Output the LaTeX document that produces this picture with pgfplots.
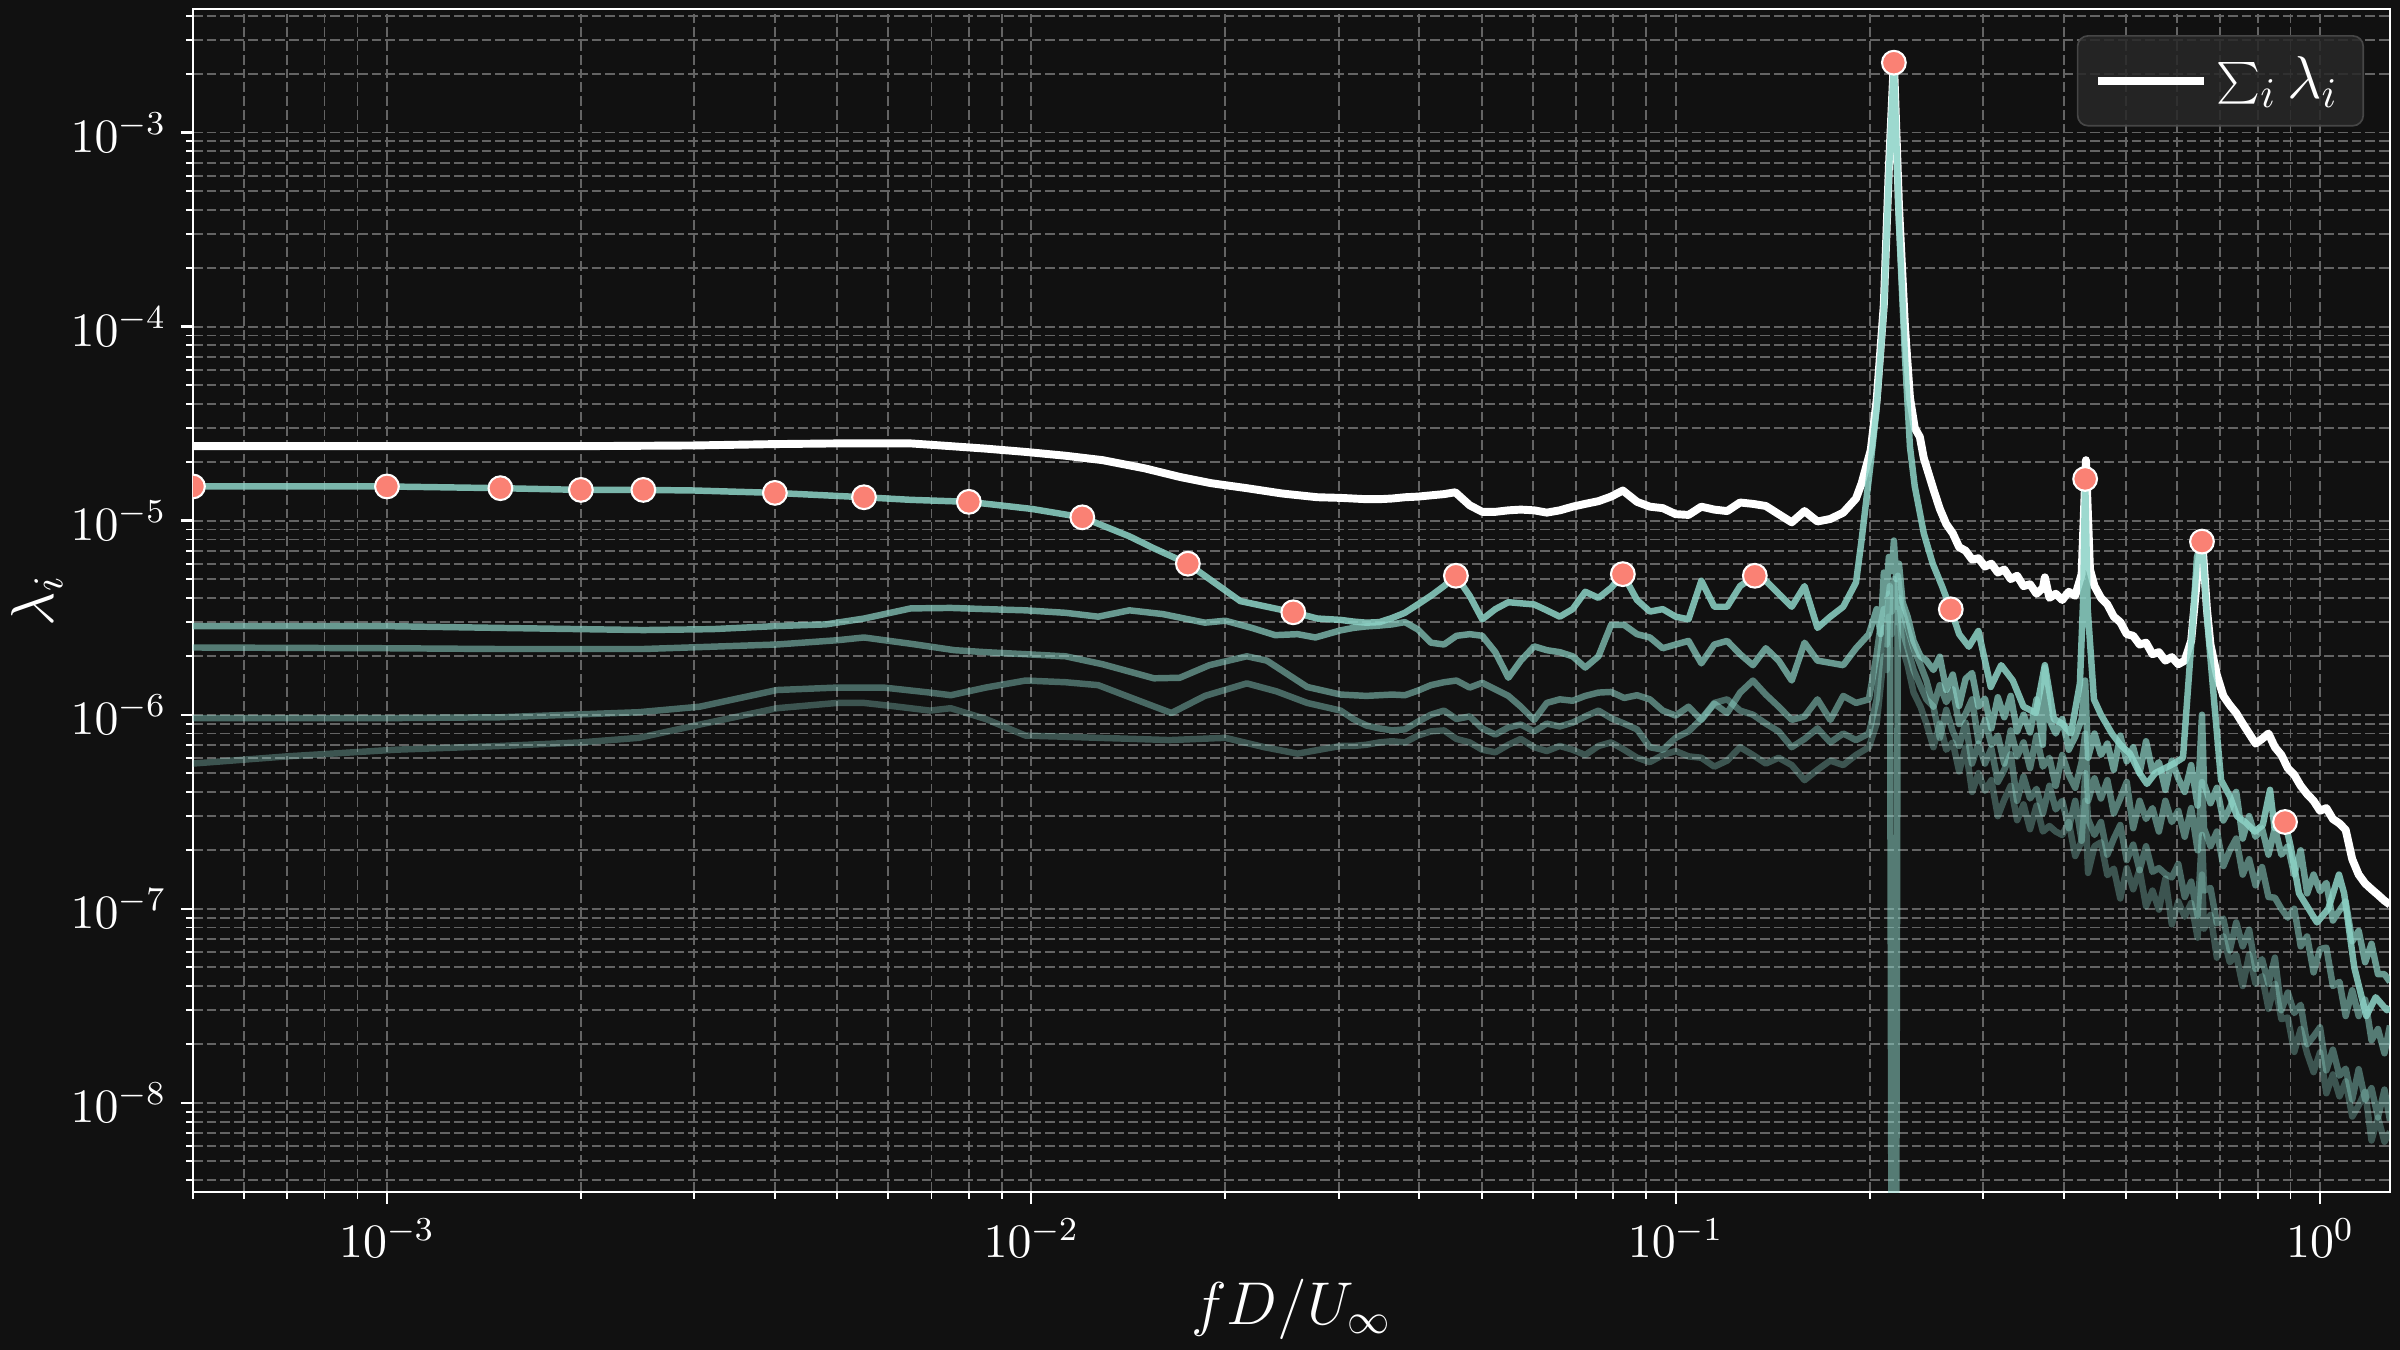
\RequirePackage{fix-cm}
\documentclass[border=0pt]{standalone}
\usepackage{pgfplots}
\pgfplotsset{compat=1.18}
\definecolor{bgc}{HTML}{111111}
\definecolor{tealc}{HTML}{8DD3C7}
\definecolor{salmon}{HTML}{FA8174}
\definecolor{gridc}{RGB}{100,100,100}
\definecolor{legfill}{RGB}{40,40,40}
\definecolor{legdraw}{RGB}{70,70,70}
\begin{document}
\begin{tikzpicture}
\fill[bgc] (-46.32pt,-37.92pt) rectangle (529.68pt,286.08pt);
\begin{axis}[
 at={(0pt,0pt)}, anchor=south west,
 scale only axis, width=527.28pt, height=283.92pt,
 xmode=log, ymode=log,
 xmin=5e-4, xmax=1.284, ymin=3.47e-9, ymax=4.33e-3,
 axis background/.style={fill=bgc},
 axis line style={white, line width=0.5pt},
 tick align=outside, tick pos=left,
 major tick length=2.9pt, minor tick length=1.7pt,
 major tick style={white, line width=0.55pt},
 minor tick style={white, line width=0.45pt},
 grid=both,
 major grid style={gridc, line width=0.45pt, dash pattern=on 2.3pt off 1pt},
 minor grid style={gridc, line width=0.45pt, dash pattern=on 2.3pt off 1pt},
 tick label style={text=white, font=\fontsize{11.5}{13}\selectfont},
 xlabel={$fD/U_\infty$}, ylabel={$\lambda_i$},
 every axis x label/.style={at={(axis description cs:0.5,-0.099)}, anchor=center, text=white, font=\fontsize{14.5}{17}\selectfont},
 every axis y label/.style={at={(axis description cs:-0.071,0.5)}, anchor=center, rotate=90, text=white, font=\fontsize{14.5}{17}\selectfont},
 legend style={at={(0.9882,0.978)}, anchor=north east, fill=legfill, fill opacity=0.85, text opacity=1, draw=legdraw, rounded corners=2.5pt, text=white, font=\fontsize{14.5}{17}\selectfont, inner xsep=4pt, inner ysep=3pt},
 legend image code/.code={\draw[#1] (0pt,0pt) -- (25.4pt,0pt);},
 clip marker paths=true,
]
% sum (drawn first, modes on top)
\addplot[white, line width=1.9pt, line join=round] table[row sep=\\]{
5.0e-4 2.42e-5\\ 1.0e-3 2.42e-5\\ 2.0e-3 2.42e-5\\ 3.0e-3 2.44e-5\\ 4.0e-3 2.48e-5\\ 5.0e-3 2.50e-5\\ 6.5e-3 2.50e-5\\ 7.5e-3 2.42e-5\\ 8.5e-3 2.35e-5\\ 9.8e-3 2.26e-5\\ 1.13e-2 2.16e-5\\ 1.29e-2 2.05e-5\\ 1.50e-2 1.86e-5\\ 1.70e-2 1.68e-5\\ 1.90e-2 1.56e-5\\ 2.16e-2 1.47e-5\\ 2.45e-2 1.38e-5\\ 2.78e-2 1.32e-5\\
0.0302 1.31e-5\\ 0.0316 1.30e-5\\ 0.0331 1.29e-5\\ 0.0347 1.29e-5\\ 0.0363 1.30e-5\\ 0.0380 1.32e-5\\ 0.0398 1.33e-5\\ 0.0417 1.35e-5\\ 0.0437 1.37e-5\\ 0.0455 1.40e-5\\ 0.0479 1.20e-5\\ 0.0501 1.11e-5\\ 0.0525 1.11e-5\\ 0.0550 1.13e-5\\ 0.0575 1.14e-5\\ 0.0603 1.13e-5\\ 0.0631 1.10e-5\\ 0.0661 1.13e-5\\ 0.0692 1.18e-5\\ 0.0724 1.22e-5\\ 0.0759 1.26e-5\\ 0.0794 1.33e-5\\ 0.0828 1.43e-5\\ 0.0871 1.25e-5\\ 0.0912 1.18e-5\\ 0.0955 1.16e-5\\ 0.1000 1.08e-5\\ 0.1047 1.07e-5\\ 0.1096 1.18e-5\\ 0.1148 1.14e-5\\ 0.1202 1.12e-5\\ 0.1259 1.24e-5\\ 0.1318 1.22e-5\\ 0.1380 1.19e-5\\ 0.1445 1.08e-5\\ 0.1514 9.8e-6\\ 0.1585 1.12e-5\\ 0.1660 9.9e-6\\ 0.1738 1.02e-5\\ 0.1820 1.10e-5\\ 0.1905 1.30e-5\\ 0.1944 1.56e-5\\ 0.2008 2.31e-5\\ 0.2051 4.2e-5\\ 0.2104 1.3e-4\\ 0.2142 6.5e-4\\ 0.2181 2.35e-3\\ 0.2221 4.2e-4\\ 0.2269 1.0e-4\\ 0.2310 4.3e-5\\ 0.2350 3.0e-5\\ 0.2393 2.7e-5\\ 0.2427 2.1e-5\\
0.2512 1.45e-5\\ 0.2570 1.15e-5\\ 0.2630 9.6e-6\\ 0.2692 8.6e-6\\ 0.2754 7.3e-6\\ 0.2818 7.0e-6\\ 0.2884 6.3e-6\\ 0.2951 6.4e-6\\ 0.3020 5.8e-6\\ 0.3090 6.0e-6\\ 0.3162 5.4e-6\\ 0.3236 5.6e-6\\ 0.3311 5.0e-6\\ 0.3388 5.2e-6\\ 0.3467 4.6e-6\\ 0.3548 4.7e-6\\ 0.3631 4.2e-6\\ 0.3715 4.5e-6\\ 0.3741 5.1e-6\\ 0.3802 4.0e-6\\ 0.3890 4.2e-6\\ 0.3981 3.9e-6\\ 0.4074 4.3e-6\\ 0.4169 4.1e-6\\ 0.4266 5.3e-6\\ 0.4332 2.05e-5\\ 0.4395 5.6e-6\\ 0.4467 4.6e-6\\ 0.4571 4.0e-6\\ 0.4677 3.7e-6\\ 0.4786 3.2e-6\\ 0.4898 3.0e-6\\ 0.5012 2.6e-6\\ 0.5129 2.55e-6\\ 0.5248 2.3e-6\\ 0.5370 2.35e-6\\ 0.5495 2.05e-6\\ 0.5623 2.1e-6\\ 0.5754 1.9e-6\\ 0.5888 1.98e-6\\ 0.6026 1.82e-6\\ 0.6166 1.9e-6\\ 0.6310 2.4e-6\\ 0.6442 5.0e-6\\ 0.6559 8.2e-6\\ 0.6676 3.5e-6\\ 0.6761 2.3e-6\\ 0.6918 1.6e-6\\ 0.7079 1.25e-6\\ 0.7244 1.12e-6\\ 0.7413 1.02e-6\\ 0.7586 9.0e-7\\ 0.7762 8.0e-7\\ 0.7943 7.1e-7\\ 0.8128 7.5e-7\\ 0.8318 8.0e-7\\ 0.8511 6.8e-7\\ 0.8710 6.2e-7\\ 0.8913 5.3e-7\\ 0.9120 4.9e-7\\ 0.9333 4.3e-7\\ 0.9550 3.9e-7\\ 0.9772 3.6e-7\\ 1.000 3.2e-7\\ 1.023 3.3e-7\\ 1.047 2.9e-7\\ 1.072 2.75e-7\\ 1.096 2.55e-7\\ 1.122 1.8e-7\\ 1.148 1.5e-7\\ 1.175 1.35e-7\\ 1.202 1.26e-7\\ 1.230 1.18e-7\\ 1.259 1.10e-7\\ 1.284 1.05e-7\\
};
\addlegendentry{$\sum_i \lambda_i$}
% mode 5
\addplot[tealc, opacity=0.35, line width=1.55pt, line join=round, forget plot] table[row sep=\\]{
5.0e-4 5.6e-7\\ 7.0e-4 6.1e-7\\ 1.03e-3 6.6e-7\\ 1.5e-3 6.9e-7\\ 2.0e-3 7.2e-7\\ 2.46e-3 7.6e-7\\ 3.06e-3 8.9e-7\\ 4.03e-3 1.08e-6\\ 5.0e-3 1.15e-6\\ 5.5e-3 1.15e-6\\ 6.2e-3 1.10e-6\\ 6.96e-3 1.05e-6\\ 7.5e-3 1.08e-6\\ 8.5e-3 9.5e-7\\ 9.8e-3 7.8e-7\\ 1.13e-2 7.7e-7\\ 1.27e-2 7.6e-7\\ 1.45e-2 7.5e-7\\ 1.64e-2 7.4e-7\\ 2.0e-2 7.6e-7\\ 2.3e-2 6.8e-7\\ 2.59e-2 6.3e-7\\ 2.8e-2 6.6e-7\\
0.0302 6.9e-7\\ 0.0316 6.9e-7\\ 0.0331 7.0e-7\\ 0.0347 7.2e-7\\ 0.0363 7.3e-7\\ 0.0380 7.2e-7\\ 0.0398 7.8e-7\\ 0.0417 8.2e-7\\ 0.0437 8.3e-7\\ 0.0457 7.5e-7\\ 0.0479 7.2e-7\\ 0.0501 6.6e-7\\ 0.0525 6.4e-7\\ 0.0550 7.0e-7\\ 0.0575 7.5e-7\\ 0.0603 6.8e-7\\ 0.0631 6.5e-7\\ 0.0661 6.9e-7\\ 0.0692 6.6e-7\\ 0.0724 6.2e-7\\ 0.0759 6.9e-7\\ 0.0794 7.2e-7\\ 0.0832 6.6e-7\\ 0.0871 6.0e-7\\ 0.0912 5.7e-7\\ 0.0955 6.2e-7\\ 0.1000 6.5e-7\\ 0.1047 6.1e-7\\ 0.1096 6.0e-7\\ 0.1148 5.4e-7\\ 0.1202 5.8e-7\\ 0.1259 6.8e-7\\ 0.1318 6.2e-7\\ 0.1380 5.6e-7\\ 0.1445 6.0e-7\\ 0.1514 5.5e-7\\ 0.1585 4.6e-7\\ 0.1660 5.2e-7\\ 0.1738 5.8e-7\\ 0.1820 5.5e-7\\ 0.1905 6.2e-7\\ 0.1995 6.8e-7\\ 0.2051 9.0e-7\\ 0.2080 1.4e-6\\ 0.2104 2.0e-6\\ 0.2125 1.7e-6\\ 0.2142 3.2e-6\\ 0.2165 2.6e-6\\ 0.2181 4.8e-6\\ 0.2200 3.0e-6\\ 0.2221 3.5e-6\\ 0.2250 2.2e-6\\ 0.2291 1.8e-6\\ 0.2340 1.3e-6\\ 0.2399 1.1e-6\\ 0.2450 9.0e-7\\
0.2512 6.8e-7\\ 0.2570 9.0e-7\\ 0.2630 6.6e-7\\ 0.2692 7.2e-7\\ 0.2754 5.1e-7\\ 0.2818 6.8e-7\\ 0.2884 4.0e-7\\ 0.2951 5.0e-7\\ 0.3020 4.05e-7\\ 0.3090 4.6e-7\\ 0.3162 3.0e-7\\ 0.3236 3.65e-7\\ 0.3311 4.3e-7\\ 0.3388 2.86e-7\\ 0.3467 3.45e-7\\ 0.3548 2.57e-7\\ 0.3631 3.4e-7\\ 0.3715 2.5e-7\\ 0.3802 2.67e-7\\ 0.3890 2.5e-7\\ 0.3981 2.4e-7\\ 0.4074 2.8e-7\\ 0.4169 1.87e-7\\ 0.4266 2.23e-7\\ 0.4320 3.6e-7\\ 0.4365 1.53e-7\\ 0.4467 2.1e-7\\ 0.4571 2.2e-7\\ 0.4677 1.49e-7\\ 0.4786 1.61e-7\\ 0.4898 1.13e-7\\ 0.5012 1.62e-7\\ 0.5129 1.26e-7\\ 0.5248 1.59e-7\\ 0.5370 1.03e-7\\ 0.5495 1.24e-7\\ 0.5623 9.9e-8\\ 0.5754 1.43e-7\\ 0.5888 8.3e-8\\ 0.6026 1.09e-7\\ 0.6166 9.1e-8\\ 0.6310 1.07e-7\\ 0.6457 7.1e-8\\ 0.6559 1.5e-7\\ 0.6607 7.9e-8\\ 0.6761 9.3e-8\\ 0.6918 5.6e-8\\ 0.7079 7.2e-8\\ 0.7244 5.3e-8\\ 0.7413 5.8e-8\\ 0.7586 4.0e-8\\ 0.7762 5.8e-8\\ 0.7943 4.1e-8\\ 0.8128 4.5e-8\\ 0.8318 3.05e-8\\ 0.8511 4.1e-8\\ 0.8710 2.7e-8\\ 0.8913 2.75e-8\\ 0.9120 1.83e-8\\ 0.9333 2.4e-8\\ 0.9550 1.8e-8\\ 0.9772 1.44e-8\\ 1.000 1.82e-8\\ 1.023 1.12e-8\\ 1.047 1.4e-8\\ 1.072 1.08e-8\\ 1.096 1.29e-8\\ 1.122 8.5e-9\\ 1.148 9.7e-9\\ 1.175 1.14e-8\\ 1.202 6.4e-9\\ 1.230 8.4e-9\\ 1.259 6.3e-9\\ 1.284 7.1e-9\\
};
% mode 4
\addplot[tealc, opacity=0.45, line width=1.55pt, line join=round, forget plot] table[row sep=\\]{
5.0e-4 9.6e-7\\ 1.0e-3 9.6e-7\\ 1.5e-3 9.7e-7\\ 2.46e-3 1.03e-6\\ 3.06e-3 1.10e-6\\ 4.03e-3 1.34e-6\\ 5.0e-3 1.38e-6\\ 5.9e-3 1.38e-6\\ 6.96e-3 1.30e-6\\ 7.5e-3 1.26e-6\\ 8.5e-3 1.38e-6\\ 9.8e-3 1.50e-6\\ 1.13e-2 1.47e-6\\ 1.27e-2 1.42e-6\\ 1.45e-2 1.2e-6\\ 1.65e-2 1.02e-6\\ 1.86e-2 1.25e-6\\ 2.16e-2 1.45e-6\\ 2.4e-2 1.32e-6\\ 2.68e-2 1.15e-6\\
0.0302 1.05e-6\\ 0.0316 9.5e-7\\ 0.0331 8.8e-7\\ 0.0347 8.5e-7\\ 0.0363 8.3e-7\\ 0.0380 8.4e-7\\ 0.0398 9.2e-7\\ 0.0417 1.0e-6\\ 0.0437 1.05e-6\\ 0.0457 9.5e-7\\ 0.0479 9.8e-7\\ 0.0501 8.5e-7\\ 0.0525 7.9e-7\\ 0.0550 8.6e-7\\ 0.0575 8.9e-7\\ 0.0603 8.2e-7\\ 0.0631 9.0e-7\\ 0.0661 8.7e-7\\ 0.0692 9.1e-7\\ 0.0724 9.8e-7\\ 0.0759 1.05e-6\\ 0.0794 9.6e-7\\ 0.0832 9.0e-7\\ 0.0871 8.4e-7\\ 0.0912 6.8e-7\\ 0.0955 6.6e-7\\ 0.1000 7.6e-7\\ 0.1047 8.2e-7\\ 0.1096 9.5e-7\\ 0.1148 1.15e-6\\ 0.1202 1.2e-6\\ 0.1259 1.05e-6\\ 0.1318 1.0e-6\\ 0.1380 9.0e-7\\ 0.1445 8.2e-7\\ 0.1514 6.8e-7\\ 0.1585 7.5e-7\\ 0.1660 8.5e-7\\ 0.1738 7.2e-7\\ 0.1820 8.0e-7\\ 0.1905 7.4e-7\\ 0.1995 8.0e-7\\ 0.2051 1.2e-6\\ 0.2080 2.1e-6\\ 0.2104 2.8e-6\\ 0.2125 2.3e-6\\ 0.2142 4.2e-6\\ 0.2165 3.4e-6\\ 0.2181 5.0e-6\\ 0.2200 3.6e-6\\ 0.2221 4.0e-6\\ 0.2250 2.7e-6\\ 0.2291 2.2e-6\\ 0.2340 1.7e-6\\ 0.2399 1.4e-6\\ 0.2450 1.2e-6\\
0.2512 1.10e-6\\ 0.2570 7.6e-7\\ 0.2630 1.06e-6\\ 0.2692 8.2e-7\\ 0.2754 6.9e-7\\ 0.2818 9.1e-7\\ 0.2884 5.6e-7\\ 0.2951 7.1e-7\\ 0.3020 5.6e-7\\ 0.3090 6.7e-7\\ 0.3162 4.5e-7\\ 0.3236 5.2e-7\\ 0.3311 6.25e-7\\ 0.3388 3.6e-7\\ 0.3467 4.8e-7\\ 0.3548 3.7e-7\\ 0.3631 4.15e-7\\ 0.3715 3.1e-7\\ 0.3802 4.3e-7\\ 0.3890 3.25e-7\\ 0.3981 3.6e-7\\ 0.4074 2.6e-7\\ 0.4169 3.6e-7\\ 0.4266 2.24e-7\\ 0.4320 5.0e-7\\ 0.4365 2.9e-7\\ 0.4467 2.4e-7\\ 0.4571 2.8e-7\\ 0.4677 1.9e-7\\ 0.4786 2.3e-7\\ 0.4898 2.7e-7\\ 0.5012 1.78e-7\\ 0.5129 2.14e-7\\ 0.5248 1.58e-7\\ 0.5370 2.1e-7\\ 0.5495 1.55e-7\\ 0.5623 1.62e-7\\ 0.5754 1.51e-7\\ 0.5888 1.45e-7\\ 0.6026 1.7e-7\\ 0.6166 1.15e-7\\ 0.6310 1.38e-7\\ 0.6457 9.2e-8\\ 0.6559 2.4e-7\\ 0.6607 1.24e-7\\ 0.6761 1.28e-7\\ 0.6918 8.4e-8\\ 0.7079 8.9e-8\\ 0.7244 6.1e-8\\ 0.7413 8.5e-8\\ 0.7586 6.4e-8\\ 0.7762 7.8e-8\\ 0.7943 4.9e-8\\ 0.8128 5.5e-8\\ 0.8318 4.1e-8\\ 0.8511 5.6e-8\\ 0.8710 3.0e-8\\ 0.8913 3.7e-8\\ 0.9120 2.9e-8\\ 0.9333 3.2e-8\\ 0.9550 2.0e-8\\ 0.9772 2.2e-8\\ 1.000 2.45e-8\\ 1.023 1.47e-8\\ 1.047 1.88e-8\\ 1.072 1.38e-8\\ 1.096 1.5e-8\\ 1.122 1.04e-8\\ 1.148 1.49e-8\\ 1.175 1.04e-8\\ 1.202 1.19e-8\\ 1.230 8.4e-9\\ 1.259 1.17e-8\\ 1.284 8.1e-9\\
};
% mode 3
\addplot[tealc, opacity=0.55, line width=1.55pt, line join=round, forget plot] table[row sep=\\]{
5.0e-4 2.22e-6\\ 1.0e-3 2.20e-6\\ 1.5e-3 2.18e-6\\ 2.5e-3 2.18e-6\\ 3.06e-3 2.23e-6\\ 4.03e-3 2.30e-6\\ 5.0e-3 2.42e-6\\ 5.5e-3 2.50e-6\\ 6.5e-3 2.32e-6\\ 7.6e-3 2.15e-6\\ 8.5e-3 2.10e-6\\ 9.8e-3 2.05e-6\\ 1.13e-2 2.0e-6\\ 1.29e-2 1.82e-6\\ 1.55e-2 1.54e-6\\ 1.70e-2 1.55e-6\\ 1.89e-2 1.8e-6\\ 2.16e-2 2.0e-6\\ 2.32e-2 1.9e-6\\ 2.68e-2 1.39e-6\\
0.0302 1.27e-6\\ 0.0316 1.26e-6\\ 0.0331 1.25e-6\\ 0.0347 1.26e-6\\ 0.0363 1.27e-6\\ 0.0380 1.26e-6\\ 0.0398 1.33e-6\\ 0.0417 1.42e-6\\ 0.0437 1.47e-6\\ 0.0457 1.50e-6\\ 0.0479 1.38e-6\\ 0.0501 1.46e-6\\ 0.0525 1.35e-6\\ 0.0550 1.25e-6\\ 0.0575 1.10e-6\\ 0.0603 9.4e-7\\ 0.0631 1.15e-6\\ 0.0661 1.20e-6\\ 0.0692 1.18e-6\\ 0.0724 1.25e-6\\ 0.0759 1.30e-6\\ 0.0794 1.31e-6\\ 0.0832 1.22e-6\\ 0.0871 1.26e-6\\ 0.0912 1.20e-6\\ 0.0955 1.05e-6\\ 0.1000 9.9e-7\\ 0.1047 1.10e-6\\ 0.1096 9.4e-7\\ 0.1148 1.14e-6\\ 0.1202 1.02e-6\\ 0.1259 1.30e-6\\ 0.1318 1.50e-6\\ 0.1380 1.27e-6\\ 0.1445 1.10e-6\\ 0.1514 9.4e-7\\ 0.1585 9.8e-7\\ 0.1660 1.20e-6\\ 0.1738 9.4e-7\\ 0.1820 1.25e-6\\ 0.1905 1.15e-6\\ 0.1995 1.20e-6\\ 0.2051 2.05e-6\\ 0.2080 2.9e-6\\ 0.2104 3.5e-6\\ 0.2125 3.1e-6\\ 0.2150 4.6e-6\\ 0.2181 1e-14\\ 0.2212 5.2e-6\\ 0.2240 3.6e-6\\ 0.2291 2.8e-6\\ 0.2340 2.2e-6\\ 0.2399 1.8e-6\\ 0.2450 1.5e-6\\
0.2512 1.10e-6\\ 0.2570 1.42e-6\\ 0.2630 1.16e-6\\ 0.2692 1.35e-6\\ 0.2754 8.95e-7\\ 0.2818 1.01e-6\\ 0.2884 1.20e-6\\ 0.2951 7.3e-7\\ 0.3020 9.4e-7\\ 0.3090 7.0e-7\\ 0.3162 7.8e-7\\ 0.3236 5.6e-7\\ 0.3311 8.3e-7\\ 0.3388 6.1e-7\\ 0.3467 7.2e-7\\ 0.3548 5.3e-7\\ 0.3631 7.8e-7\\ 0.3715 5.4e-7\\ 0.3802 6.0e-7\\ 0.3890 4.3e-7\\ 0.3981 6.2e-7\\ 0.4074 4.9e-7\\ 0.4169 4.2e-7\\ 0.4266 5.7e-7\\ 0.4320 8.0e-7\\ 0.4365 3.6e-7\\ 0.4467 4.7e-7\\ 0.4571 3.7e-7\\ 0.4677 4.6e-7\\ 0.4786 3.1e-7\\ 0.4898 3.7e-7\\ 0.5012 4.5e-7\\ 0.5129 2.6e-7\\ 0.5248 3.6e-7\\ 0.5370 2.9e-7\\ 0.5495 3.3e-7\\ 0.5623 2.5e-7\\ 0.5754 3.6e-7\\ 0.5888 2.8e-7\\ 0.6026 3.2e-7\\ 0.6166 2.35e-7\\ 0.6310 3.3e-7\\ 0.6457 2.0e-7\\ 0.6559 4.5e-7\\ 0.6607 2.6e-7\\ 0.6761 2.1e-7\\ 0.6918 2.5e-7\\ 0.7079 1.66e-7\\ 0.7244 2.0e-7\\ 0.7413 2.3e-7\\ 0.7586 1.5e-7\\ 0.7762 1.8e-7\\ 0.7943 1.32e-7\\ 0.8128 1.64e-7\\ 0.8318 1.15e-7\\ 0.8511 1.14e-7\\ 0.8710 1.0e-7\\ 0.8913 9.0e-8\\ 0.9120 1.0e-7\\ 0.9333 6.4e-8\\ 0.9550 7.2e-8\\ 0.9772 4.7e-8\\ 1.000 6.2e-8\\ 1.023 6.3e-8\\ 1.047 4.0e-8\\ 1.072 4.2e-8\\ 1.096 2.8e-8\\ 1.122 3.8e-8\\ 1.148 2.8e-8\\ 1.175 3.4e-8\\ 1.202 2.1e-8\\ 1.230 2.4e-8\\ 1.259 1.8e-8\\ 1.284 2.5e-8\\
};
% mode 2
\addplot[tealc, opacity=0.7, line width=1.55pt, line join=round, forget plot] table[row sep=\\]{
5.0e-4 2.86e-6\\ 1.0e-3 2.86e-6\\ 1.5e-3 2.80e-6\\ 2.0e-3 2.76e-6\\ 2.5e-3 2.73e-6\\ 3.2e-3 2.76e-6\\ 4.0e-3 2.86e-6\\ 4.8e-3 2.92e-6\\ 5.5e-3 3.13e-6\\ 6.5e-3 3.53e-6\\ 7.5e-3 3.55e-6\\ 8.5e-3 3.50e-6\\ 9.8e-3 3.45e-6\\ 1.13e-2 3.35e-6\\ 1.27e-2 3.2e-6\\ 1.42e-2 3.45e-6\\ 1.6e-2 3.3e-6\\ 1.86e-2 2.98e-6\\ 2.0e-2 3.05e-6\\ 2.2e-2 2.8e-6\\ 2.39e-2 2.57e-6\\ 2.59e-2 2.6e-6\\ 2.76e-2 2.5e-6\\
0.0302 2.72e-6\\ 0.0316 2.80e-6\\ 0.0331 2.85e-6\\ 0.0347 2.88e-6\\ 0.0363 2.92e-6\\ 0.0380 3.00e-6\\ 0.0398 2.75e-6\\ 0.0417 2.35e-6\\ 0.0437 2.30e-6\\ 0.0457 2.55e-6\\ 0.0479 2.60e-6\\ 0.0501 2.55e-6\\ 0.0525 2.10e-6\\ 0.0550 1.55e-6\\ 0.0575 1.90e-6\\ 0.0603 2.25e-6\\ 0.0631 2.15e-6\\ 0.0661 2.10e-6\\ 0.0692 2.00e-6\\ 0.0724 1.75e-6\\ 0.0759 2.00e-6\\ 0.0794 2.90e-6\\ 0.0832 2.90e-6\\ 0.0871 2.60e-6\\ 0.0912 2.50e-6\\ 0.0955 2.20e-6\\ 0.1000 2.30e-6\\ 0.1047 2.40e-6\\ 0.1096 1.84e-6\\ 0.1148 2.30e-6\\ 0.1202 2.40e-6\\ 0.1259 2.05e-6\\ 0.1318 1.80e-6\\ 0.1380 2.20e-6\\ 0.1445 1.90e-6\\ 0.1514 1.50e-6\\ 0.1585 2.35e-6\\ 0.1660 1.90e-6\\ 0.1738 1.85e-6\\ 0.1820 1.80e-6\\ 0.1905 2.20e-6\\ 0.1995 2.60e-6\\ 0.2051 3.50e-6\\ 0.2080 2.6e-6\\ 0.2104 5.40e-6\\ 0.2125 4.2e-6\\ 0.2142 6.50e-6\\ 0.2165 5.5e-6\\ 0.2181 7.90e-6\\ 0.2200 5.0e-6\\ 0.2221 6.00e-6\\ 0.2250 3.8e-6\\ 0.2291 3.20e-6\\ 0.2340 2.4e-6\\ 0.2399 2.00e-6\\ 0.2450 1.9e-6\\
0.2512 1.70e-6\\ 0.2570 1.99e-6\\ 0.2630 1.34e-6\\ 0.2692 1.61e-6\\ 0.2754 1.11e-6\\ 0.2818 1.53e-6\\ 0.2884 1.64e-6\\ 0.2951 1.10e-6\\ 0.3020 1.21e-6\\ 0.3090 8.5e-7\\ 0.3162 1.23e-6\\ 0.3236 9.7e-7\\ 0.3311 1.25e-6\\ 0.3388 8.2e-7\\ 0.3467 1.0e-6\\ 0.3548 8.1e-7\\ 0.3631 1.2e-6\\ 0.3715 7.0e-7\\ 0.3741 1.75e-6\\ 0.3802 9.4e-7\\ 0.3890 8.0e-7\\ 0.3981 9.5e-7\\ 0.4074 6.6e-7\\ 0.4169 7.7e-7\\ 0.4266 9.5e-7\\ 0.4320 1.5e-6\\ 0.4365 6.0e-7\\ 0.4467 8.0e-7\\ 0.4571 6.2e-7\\ 0.4677 7.1e-7\\ 0.4786 5.2e-7\\ 0.4898 7.8e-7\\ 0.5012 5.75e-7\\ 0.5129 6.8e-7\\ 0.5248 5.0e-7\\ 0.5370 7.3e-7\\ 0.5495 5.1e-7\\ 0.5623 5.7e-7\\ 0.5754 4.1e-7\\ 0.5888 5.8e-7\\ 0.6026 4.7e-7\\ 0.6166 4.0e-7\\ 0.6310 5.5e-7\\ 0.6457 3.4e-7\\ 0.6559 1.0e-6\\ 0.6607 4.4e-7\\ 0.6761 3.5e-7\\ 0.6918 4.2e-7\\ 0.7079 2.85e-7\\ 0.7244 3.3e-7\\ 0.7413 4.0e-7\\ 0.7586 2.3e-7\\ 0.7762 3.0e-7\\ 0.7943 2.35e-7\\ 0.8128 2.6e-7\\ 0.8318 1.9e-7\\ 0.8511 2.6e-7\\ 0.8710 1.9e-7\\ 0.8913 2.1e-7\\ 0.9120 1.5e-7\\ 0.9333 2.0e-7\\ 0.9550 1.2e-7\\ 0.9772 1.5e-7\\ 1.000 1.23e-7\\ 1.023 1.36e-7\\ 1.047 8.7e-8\\ 1.072 9.8e-8\\ 1.096 1.09e-7\\ 1.122 6.8e-8\\ 1.148 7.7e-8\\ 1.175 5.3e-8\\ 1.202 6.6e-8\\ 1.230 4.6e-8\\ 1.259 4.6e-8\\ 1.284 4.2e-8\\
};
% mode 1
\addplot[tealc, opacity=0.85, line width=1.55pt, line join=round, forget plot] table[row sep=\\]{
5.0e-4 1.50e-5\\ 7.0e-4 1.50e-5\\ 1.0e-3 1.50e-5\\ 1.5e-3 1.47e-5\\ 2.0e-3 1.44e-5\\ 2.5e-3 1.44e-5\\ 3.0e-3 1.43e-5\\ 4.0e-3 1.39e-5\\ 5.5e-3 1.32e-5\\ 6.5e-3 1.28e-5\\ 8.0e-3 1.25e-5\\ 1.0e-2 1.15e-5\\ 1.2e-2 1.04e-5\\ 1.42e-2 8.3e-6\\ 1.55e-2 7.2e-6\\ 1.75e-2 6.0e-6\\ 2.11e-2 3.85e-6\\ 2.55e-2 3.37e-6\\ 2.78e-2 3.13e-6\\
0.0302 3.08e-6\\ 0.0316 3.02e-6\\ 0.0331 2.98e-6\\ 0.0347 3.00e-6\\ 0.0363 3.15e-6\\ 0.0380 3.35e-6\\ 0.0398 3.70e-6\\ 0.0417 4.10e-6\\ 0.0437 4.60e-6\\ 0.0456 5.20e-6\\ 0.0479 4.10e-6\\ 0.0501 3.10e-6\\ 0.0525 3.50e-6\\ 0.0550 3.80e-6\\ 0.0575 3.75e-6\\ 0.0603 3.70e-6\\ 0.0631 3.45e-6\\ 0.0661 3.20e-6\\ 0.0692 3.50e-6\\ 0.0724 4.30e-6\\ 0.0759 4.00e-6\\ 0.0794 4.50e-6\\ 0.0828 5.30e-6\\ 0.0871 3.90e-6\\ 0.0912 3.40e-6\\ 0.0955 3.50e-6\\ 0.1000 3.20e-6\\ 0.1047 3.10e-6\\ 0.1096 4.90e-6\\ 0.1148 3.60e-6\\ 0.1202 3.60e-6\\ 0.1259 4.60e-6\\ 0.1327 5.20e-6\\ 0.1380 4.90e-6\\ 0.1445 4.20e-6\\ 0.1514 3.60e-6\\ 0.1585 4.60e-6\\ 0.1660 2.80e-6\\ 0.1738 3.20e-6\\ 0.1820 3.60e-6\\ 0.1905 4.80e-6\\ 0.1944 8.0e-6\\ 0.2008 2.0e-5\\ 0.2051 3.8e-5\\ 0.2104 1.2e-4\\ 0.2142 6.0e-4\\ 0.2181 2.29e-3\\ 0.2221 3.4e-4\\ 0.2269 7.0e-5\\ 0.2310 2.4e-5\\ 0.2350 1.5e-5\\ 0.2393 1.1e-5\\ 0.2427 8.6e-6\\ 0.2506 6.0e-6\\ 0.2590 4.6e-6\\ 0.2673 3.49e-6\\ 0.2754 2.6e-6\\ 0.2851 2.24e-6\\ 0.2950 2.7e-6\\ 0.3020 1.9e-6\\ 0.3083 1.39e-6\\ 0.3200 1.8e-6\\ 0.3336 1.5e-6\\ 0.3467 1.1e-6\\ 0.3622 1.02e-6\\ 0.3741 1.8e-6\\ 0.3864 9.5e-7\\ 0.3981 9.0e-7\\ 0.4106 8.0e-7\\ 0.4240 1.45e-6\\ 0.4290 4.0e-6\\ 0.4320 1.7e-5\\ 0.4360 3.5e-6\\ 0.4458 1.2e-6\\ 0.4571 1.0e-6\\ 0.4753 8.0e-7\\ 0.4900 7.0e-7\\ 0.5070 6.3e-7\\ 0.5248 5.0e-7\\ 0.5387 4.4e-7\\ 0.5550 5.0e-7\\ 0.5745 5.3e-7\\ 0.5930 5.6e-7\\ 0.6128 6.0e-7\\ 0.6328 2.6e-6\\ 0.6442 6.5e-6\\ 0.6559 7.9e-6\\ 0.6676 3.2e-6\\ 0.6846 1.2e-6\\ 0.7021 4.6e-7\\ 0.7244 3.8e-7\\ 0.7433 3.0e-7\\ 0.7650 2.8e-7\\ 0.7925 2.5e-7\\ 0.8150 2.7e-7\\ 0.8364 4.1e-7\\ 0.8500 2.6e-7\\ 0.8825 2.8e-7\\ 0.9000 2.1e-7\\ 0.9277 1.2e-7\\ 0.9600 1.0e-7\\ 0.9893 8.5e-8\\ 1.030 1.0e-7\\ 1.070 1.5e-7\\ 1.090 1.2e-7\\ 1.130 5.0e-8\\ 1.180 2.8e-8\\ 1.220 3.5e-8\\ 1.270 3.0e-8\\ 1.284 3.1e-8\\
};
% markers
\addplot[only marks, mark=*, mark size=2.85pt, mark options={fill=salmon, draw=white, line width=0.5pt}, forget plot] table[row sep=\\]{
5.0e-4 1.50e-5\\ 1.0e-3 1.50e-5\\ 1.5e-3 1.47e-5\\ 2.0e-3 1.44e-5\\ 2.5e-3 1.44e-5\\ 4.0e-3 1.39e-5\\ 5.5e-3 1.32e-5\\ 8.0e-3 1.25e-5\\ 1.2e-2 1.04e-5\\ 1.75e-2 6.0e-6\\ 2.55e-2 3.37e-6\\ 4.56e-2 5.2e-6\\ 8.28e-2 5.3e-6\\ 0.1327 5.2e-6\\ 0.2181 2.29e-3\\ 0.2673 3.49e-6\\ 0.4320 1.64e-5\\ 0.6559 7.8e-6\\ 0.8825 2.8e-7\\
};
\end{axis}
\pgfresetboundingbox
\path[use as bounding box] (-46.32pt,-37.92pt) rectangle (529.68pt,286.08pt);
\end{tikzpicture}
\end{document}
